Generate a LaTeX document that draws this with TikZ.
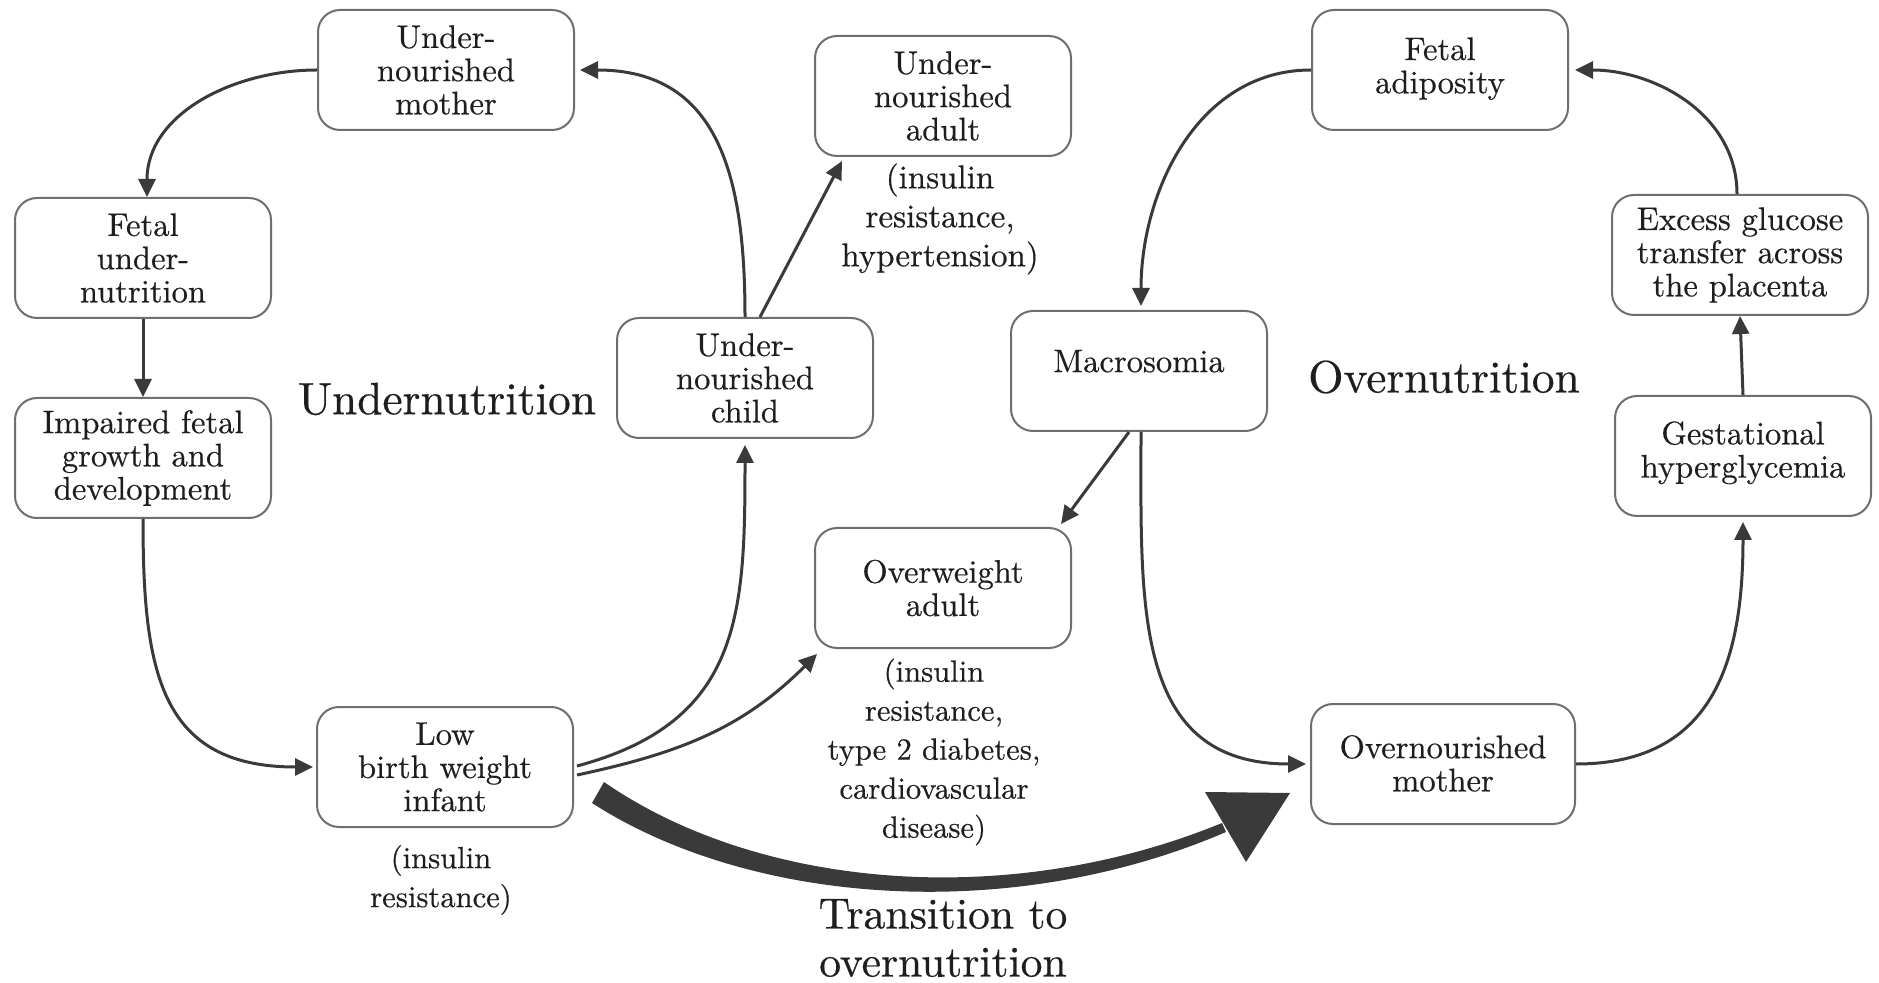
\documentclass[tikz,border=0pt]{standalone}
\usepackage{fontspec}
\setmainfont{lmroman10-regular.otf}[FakeBold=0.5]
\usetikzlibrary{arrows.meta,calc}
\definecolor{ink}{HTML}{1E1E1E}
\definecolor{arrc}{HTML}{3A3A3A}
\definecolor{boxc}{HTML}{6E6E6E}
\newcommand{\stk}[2][0pt]{\raisebox{#1}{\begin{tabular}{@{}c@{}}#2\end{tabular}}}
\tikzset{
  box/.style={draw=boxc, line width=1pt, rounded corners=11pt, minimum width=128pt, minimum height=60pt,
    inner sep=0pt, align=center, text=ink, font=\fontsize{16.3}{16.6}\selectfont},
  lbl/.style={align=center, text=ink, inner sep=0pt, font=\fontsize{15.3}{19.5}\selectfont},
  title/.style={align=center, text=ink, inner sep=0pt, font=\fontsize{22.7}{24}\selectfont},
  arr/.style={draw=arrc, line width=1.5pt, -{Triangle[length=9pt,width=8.5pt]}},
}
\begin{document}
\begin{tikzpicture}[x=0.5pt,y=0.5pt]
\useasboundingbox (0,0) rectangle (1879,-983);
% nodes
\node[box] (unm) at (446,-70) {Under-\\nourished\\mother};
\node[box] (fun) at (143,-258) {Fetal\\under-\\nutrition};
\node[box] (ifg) at (143,-458) {Impaired fetal\\growth and\\development};
\node[box] (lbw) at (445,-767) {Low\\birth weight\\infant};
\node[box] (unc) at (745,-378) {Under-\\nourished\\child};
\node[box] (una) at (943,-96) {Under-\\nourished\\adult};
\node[box] (owa) at (943,-588) {Overweight\\adult};
\node[box] (fa) at (1440,-70) {\stk[3pt]{Fetal\\adiposity}};
\node[box] (mac) at (1139,-371) {\raisebox{10pt}{Macrosomia}};
\node[box] (egt) at (1740,-255) {Excess glucose\\transfer across\\the placenta};
\node[box] (gh) at (1743,-456) {\stk[14pt]{Gestational\\hyperglycemia}};
\node[box, minimum width=132pt] (onm) at (1443,-764) {\stk[-25pt]{Overnourished\\mother}};
% labels
\node[lbl, font=\fontsize{16.5}{19.5}\selectfont] (l1) at (940,-219) {(insulin\\resistance,\\hypertension)};
\node[lbl] (l2) at (934,-752) {(insulin\\resistance,\\type 2 diabetes,\\cardiovascular\\disease)};
\node[lbl] (l3) at (441,-880) {(insulin\\resistance)};
\node[title] (undern) at (447,-399) {Undernutrition};
\node[title] (overn) at (1444,-377) {Overnutrition};
\node[title, font=\fontsize{21.8}{24}\selectfont] (trans) at (943,-938) {Transition to\\overnutrition};
% connectors
\draw[arr] (unm.west) to[out=180,in=90] ($(fun.north)+(4,0)$);
\draw[arr] (fun.south) -- (ifg.north);
\draw[arr] (ifg.south) to[out=-90,in=180,looseness=1.3] ($(lbw.west)+(-3,0)$);
\draw[arr] ($(lbw.east)+(3,1)$) to[out=15,in=-90,looseness=1.2] ($(unc.south)+(0,-6)$);
\draw[arr] ($(lbw.east)+(3,-8)$) to[out=12,in=-135] ($(owa.south west)+(3,-5)$);
\draw[arr] (unc.north) to[out=90,in=0,looseness=1.2] ($(unm.east)+(5,0)$);
\draw[arr] ($(unc.north)+(15,0)$) -- ($(una.south west)+(28,-4)$);
\draw[arr] (fa.west) to[out=180,in=90] ($(mac.north)+(2,4)$);
\draw[arr] ($(mac.south)+(-10,0)$) -- ($(owa.north east)+(-11,3)$);
\draw[arr] ($(mac.south)+(2,0)$) to[out=-90,in=180,looseness=1.2] ($(onm.west)+(-4,0)$);
\draw[arr] (onm.east) to[out=0,in=-90,looseness=1.2] ($(gh.south)+(0,-5)$);
\draw[arr] (gh.north) -- (egt.south);
\draw[arr] ($(egt.north)+(-3,0)$) to[out=90,in=0] ($(fa.east)+(6,0)$);
% transition arrow
\fill[arrc] (604,-782) .. controls (760,-890) and (1010,-910) .. (1222,-823)
  -- (1226,-832) .. controls (1010,-925) and (750,-905) .. (592,-803) -- cycle;
\fill[arrc] (1205,-792) -- (1290,-793) -- (1246,-862) -- cycle;
\end{tikzpicture}
\end{document}
